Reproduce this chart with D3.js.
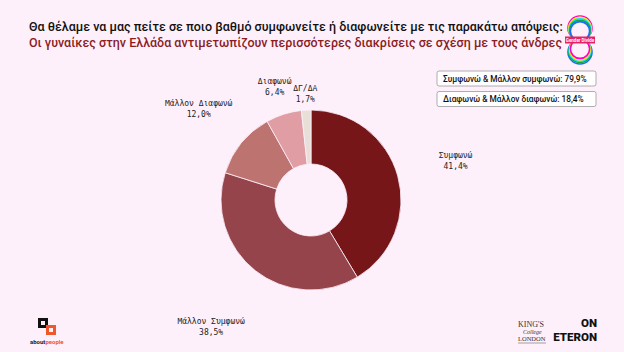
<!DOCTYPE html>
<html>
<head>
<meta charset="utf-8">
<script src="https://cdn.jsdelivr.net/npm/d3@7"></script>
<style>
    html, body { margin: 0; padding: 0; background: #fdf0fb; }
    svg { display: block; }
</style>
</head>
<body>
<div id="chart"></div>
<script>
// Chart data
const categories = ["Συμφωνώ", "Μάλλον Συμφωνώ", "Μάλλον Διαφωνώ", "Διαφωνώ", "ΔΓ/ΔΑ"];
const values = [41.4, 38.5, 12.0, 6.4, 1.7];
const summaryLabels = ["Συμφωνώ & Μάλλον συμφωνώ", "Διαφωνώ & Μάλλον διαφωνώ"];
const summaryValues = [79.9, 18.4];
const titleLines = [
    "Θα θέλαμε να μας πείτε σε ποιο βαθμό συμφωνείτε ή διαφωνείτε με τις παρακάτω απόψεις:",
    "Οι γυναίκες στην Ελλάδα αντιμετωπίζουν περισσότερες διακρίσεις σε σχέση με τους άνδρες"
];

// Layout / style config
const config = {
    width: 624,
    height: 352,
    bg: "#fdf0fb",
    center: [311, 200],
    outerRadius: 90,
    innerRadius: 36,
    colors: ["#761618", "#94444a", "#bd7471", "#e09da3", "#e8e0d8"],
    labelRadius: [150, 161, 145, 120, 107] // distance of each label from the centre
};

const fmt = v => d3.format(".1f")(v).replace(".", ",") + "%";

const svg = d3.select("#chart").append("svg")
    .attr("width", config.width)
    .attr("height", config.height);

svg.append("rect")
    .attr("width", config.width)
    .attr("height", config.height)
    .attr("fill", config.bg);

// Title
svg.append("g")
    .selectAll("text")
    .data(titleLines)
    .join("text")
    .attr("x", 29)
    .attr("y", (d, i) => 31 + i * 16)
    .attr("font-family", "Roboto, sans-serif")
    .attr("font-size", 12.5)
    .attr("font-weight", 500)
    .attr("fill", (d, i) => i === 0 ? "#111" : "#8c1c1f")
    .text(d => d);

// Donut
const pieData = d3.pie()
    .sort(null)
    .value(d => d.value)(categories.map((c, i) => ({ name: c, value: values[i], i })));

const arc = d3.arc()
    .innerRadius(config.innerRadius)
    .outerRadius(config.outerRadius);

const pieGroup = svg.append("g")
    .attr("transform", `translate(${config.center[0]}, ${config.center[1]})`);

pieGroup.selectAll("path")
    .data(pieData)
    .join("path")
    .attr("d", arc)
    .attr("fill", d => config.colors[d.data.i])
    .attr("stroke", "#fdf0fb")
    .attr("stroke-width", 0.8);

// Slice labels
const labels = pieGroup.selectAll("text.lbl")
    .data(pieData)
    .join("text")
    .attr("class", "lbl")
    .attr("transform", d => {
        const a = (d.startAngle + d.endAngle) / 2;
        const r = config.labelRadius[d.data.i];
        return `translate(${Math.sin(a) * r}, ${-Math.cos(a) * r})`;
    })
    .attr("text-anchor", "middle")
    .attr("font-family", "'DejaVu Sans Mono', monospace")
    .attr("font-size", 8)
    .attr("fill", "#222");

labels.append("tspan")
    .attr("x", 0)
    .attr("y", -2)
    .text(d => d.data.name);

labels.append("tspan")
    .attr("x", 0)
    .attr("y", 9)
    .text(d => fmt(d.data.value));

// Summary boxes
const boxes = svg.append("g")
    .selectAll("g")
    .data(summaryLabels)
    .join("g")
    .attr("transform", (d, i) => `translate(437, ${71 + i * 20.5})`);

boxes.append("rect")
    .attr("width", 159)
    .attr("height", 15)
    .attr("rx", 2)
    .attr("fill", "#fff")
    .attr("stroke", "#9a9a9a")
    .attr("stroke-width", 0.8);

boxes.append("text")
    .attr("x", 6)
    .attr("y", 10.5)
    .attr("font-family", "Roboto, sans-serif")
    .attr("font-size", 8.3)
    .attr("font-weight", 500)
    .attr("fill", "#111")
    .text((d, i) => `${d}: ${fmt(summaryValues[i])}`);

// Gender Divide logo (rings)
const logo = svg.append("g").attr("transform", "translate(580, 40)");
const ringColors = ["#ff00c8", "#ffe600", "#00e5ff", "#16a34a", "#1e6bff"];
[-12, 12].forEach((cy, k) => {
    ringColors.forEach((c, j) => {
        logo.append("circle")
            .attr("cx", 0)
            .attr("cy", cy + (k === 0 ? j * 0.8 : -j * 0.8))
            .attr("r", 12 - j * 0.6)
            .attr("fill", "none")
            .attr("stroke", k === 0 ? c : ringColors[ringColors.length - 1 - j])
            .attr("stroke-width", 1.6);
    });
});
logo.append("rect")
    .attr("x", -15).attr("y", -3.5)
    .attr("width", 30).attr("height", 7)
    .attr("fill", "#e8206a");
logo.append("text")
    .attr("text-anchor", "middle")
    .attr("y", 2)
    .attr("font-family", "Roboto, sans-serif")
    .attr("font-size", 4.5)
    .attr("font-weight", 700)
    .attr("fill", "#fff")
    .text("Gender Divide");

// aboutpeople logo
const ap = svg.append("g").attr("transform", "translate(38, 318)");
ap.append("rect").attr("x", 0).attr("y", 0).attr("width", 10).attr("height", 10).attr("fill", "#111");
ap.append("rect").attr("x", 3).attr("y", 3).attr("width", 4).attr("height", 4).attr("fill", "#fdf0fb");
ap.append("rect").attr("x", 8).attr("y", 7).attr("width", 10).attr("height", 10).attr("fill", "#f0572a");
ap.append("rect").attr("x", 11).attr("y", 10).attr("width", 4).attr("height", 4).attr("fill", "#fdf0fb");
ap.append("text")
    .attr("x", -8).attr("y", 26)
    .attr("font-family", "Roboto, sans-serif")
    .attr("font-size", 6)
    .attr("font-weight", 700)
    .attr("fill", "#222")
    .text("about")
    .append("tspan")
    .attr("fill", "#f0572a")
    .text("people");

// King's College London
const kcl = svg.append("g").attr("transform", "translate(518, 320)")
    .attr("font-family", "'Liberation Serif', serif")
    .attr("fill", "#333");
kcl.append("text").attr("y", 7).attr("font-size", 8).text("KING'S");
kcl.append("text").attr("x", 5).attr("y", 14).attr("font-size", 6).attr("font-style", "italic").text("College");
kcl.append("text").attr("y", 21).attr("font-size", 6.5).text("LONDON");
kcl.append("line").attr("x1", 0).attr("x2", 28).attr("y1", 23).attr("y2", 23).attr("stroke", "#666").attr("stroke-width", 0.6);

// ON ETERON
const on = svg.append("g")
    .attr("font-family", "Roboto, sans-serif")
    .attr("font-weight", 900)
    .attr("fill", "#111")
    .attr("text-anchor", "end");
on.append("text").attr("x", 597).attr("y", 327).attr("font-size", 11.5).text("ON");
on.append("text").attr("x", 597).attr("y", 341).attr("font-size", 11.5).text("ETERON");
</script>
</body>
</html>
